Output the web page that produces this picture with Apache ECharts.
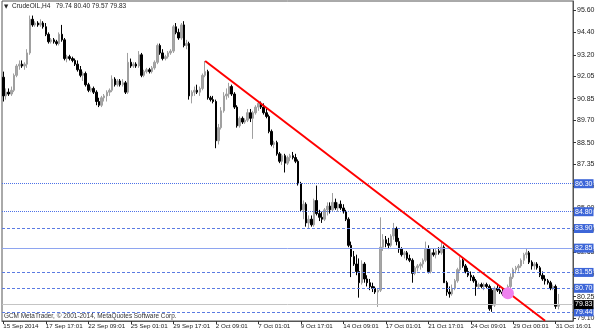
<!DOCTYPE html>
<html><head><meta charset="utf-8">
<script src="https://cdn.jsdelivr.net/npm/echarts@6/dist/echarts.min.js"></script>
<style>html,body{margin:0;padding:0;background:#fff}#c{width:600px;height:333px}</style>
</head><body><div id="c"></div>
<script>
// ---- data ----
const opens = [92.0,91.0,91.2,91.1,91.3,92.1,92.6,92.7,92.6,92.7,93.3,95.1,94.8,94.9,94.8,94.9,94.7,94.3,93.9,94.0,
93.9,93.8,94.3,94.0,93.0,93.1,93.0,92.9,92.7,92.4,92.1,92.2,91.6,91.3,91.4,91.2,90.7,90.5,90.9,91.0,
91.2,91.3,91.9,91.6,91.8,91.6,91.7,91.2,92.8,92.6,92.7,92.6,93.2,92.1,92.3,92.4,92.3,92.5,92.8,93.7,
93.3,93.0,93.1,93.3,93.4,94.7,94.4,94.1,94.8,93.7,93.8,91.0,91.2,91.3,91.2,91.4,92.1,92.3,90.9,90.8,
90.7,88.6,89.3,90.2,91.0,91.1,91.5,91.1,90.4,89.4,89.8,89.6,89.7,90.1,89.8,90.1,90.4,90.6,90.4,90.1,
89.9,89.1,88.4,88.5,87.9,87.5,87.8,87.4,87.7,87.8,87.7,87.5,86.3,84.9,85.2,84.2,84.4,84.1,85.4,84.7,
84.5,84.4,84.9,85.1,84.9,85.3,85.0,85.2,85.0,84.8,84.4,83.0,82.4,82.0,81.6,81.0,82.0,81.2,81.0,80.8,
80.7,80.5,80.6,82.9,83.3,83.1,83.0,83.5,83.9,83.2,82.8,82.5,82.6,82.3,82.2,81.5,81.8,81.9,82.0,82.2,
82.8,81.6,82.6,82.5,82.7,82.6,82.9,81.0,80.5,80.4,80.7,81.1,81.7,82.2,81.9,81.6,81.4,81.3,81.1,80.8,
80.9,80.8,80.9,80.8,80.6,79.8,80.7,80.6,80.5,80.4,80.5,80.8,81.3,81.7,81.8,81.9,82.2,82.5,82.6,82.1,
81.9,82.0,81.8,81.4,81.2,81.1,81.0,80.7,80.8,79.74];
const highs = [92.3,91.4,91.4,91.5,92.2,92.7,92.9,92.9,92.8,93.5,95.3,95.3,95.0,95.0,95.1,95.0,94.9,94.4,94.1,94.1,
94.0,94.4,94.8,94.1,93.2,93.2,93.1,93.0,92.9,92.6,92.3,92.3,91.7,91.5,91.5,91.3,90.9,91.0,91.1,91.3,
91.4,92.1,92.0,91.9,91.9,91.9,91.8,93.3,93.0,92.8,92.8,93.4,93.3,92.4,92.5,92.5,92.6,92.9,93.8,93.8,
93.5,93.2,93.4,93.5,94.8,94.9,94.6,94.9,95.0,94.0,93.9,91.3,91.5,91.6,91.5,92.2,92.87,92.4,91.0,91.0,
90.8,89.5,90.4,91.2,91.4,91.7,91.6,91.2,90.5,89.9,89.9,89.8,90.3,90.3,90.2,90.5,90.7,90.7,90.6,90.3,
90.0,89.2,88.6,88.6,88.0,87.9,87.9,87.8,87.9,88.0,87.9,87.6,86.4,85.4,85.3,84.6,84.6,85.5,86.2,84.9,
84.8,85.0,85.3,85.3,85.8,85.5,85.3,85.4,85.2,84.9,84.5,83.2,82.7,82.5,82.3,82.2,82.1,81.4,81.2,81.0,
80.8,80.7,84.5,83.6,83.5,83.4,83.6,84.2,84.0,83.4,82.9,82.7,82.7,82.5,82.3,81.9,82.0,82.1,82.3,83.2,
83.0,82.8,82.8,82.8,82.9,83.2,83.0,81.1,80.8,80.9,81.2,81.8,82.4,82.3,82.0,81.8,81.6,81.4,81.2,81.0,
81.0,81.0,81.0,80.9,80.7,80.8,80.9,80.8,80.7,80.6,80.9,81.5,81.8,81.9,82.0,82.3,82.6,82.85,82.7,82.2,
82.1,82.1,81.9,81.6,81.4,81.2,81.1,80.9,80.9,80.40];
const lows = [90.7,90.8,91.0,91.0,91.2,92.0,92.4,92.5,92.4,92.5,93.2,94.7,94.7,94.7,94.7,94.6,94.2,93.8,93.8,93.8,
93.7,93.7,93.9,92.9,92.8,92.9,92.8,92.6,92.3,92.0,91.8,91.5,91.2,91.2,91.1,90.5,90.4,90.4,90.7,90.7,
91.0,91.2,91.5,91.5,91.5,91.5,91.1,91.1,92.5,92.5,92.5,92.5,92.0,92.0,92.2,92.2,92.2,92.4,92.7,93.2,
92.9,92.9,93.0,93.2,93.3,94.3,94.0,94.0,93.6,93.5,90.8,90.6,91.0,91.1,91.0,91.3,92.0,90.8,90.7,90.6,
88.2,88.4,89.2,90.1,90.8,90.9,91.0,90.3,89.3,89.3,89.5,89.5,89.6,89.6,88.7,90.0,90.2,90.3,90.0,89.8,
89.0,88.3,88.2,87.8,87.4,87.3,86.9,87.3,87.5,87.6,87.4,86.2,84.8,84.4,84.0,83.9,84.0,84.0,84.6,84.3,
84.2,84.3,84.6,84.7,84.8,84.9,84.8,84.9,84.7,84.3,82.9,81.3,81.9,81.4,80.2,80.9,81.0,80.8,80.6,80.5,
80.4,79.7,80.5,82.7,82.9,82.8,82.9,83.3,83.0,82.6,82.4,82.3,82.2,82.1,81.0,81.4,81.6,81.7,81.8,82.1,
81.5,81.5,82.4,82.3,82.5,82.5,81.0,80.3,80.2,80.3,80.6,81.0,81.6,81.8,81.5,81.3,81.1,81.0,80.3,80.7,
80.7,80.6,80.7,79.5,79.44,79.7,80.5,80.4,80.3,80.3,80.4,80.7,81.2,81.5,81.6,81.8,82.0,82.3,82.0,81.7,
81.7,81.7,81.3,81.1,80.9,80.9,80.6,80.6,79.6,79.57];
const closes = [91.0,91.2,91.1,91.3,92.1,92.6,92.7,92.6,92.7,93.3,95.1,94.8,94.9,94.8,94.9,94.7,94.3,93.9,94.0,93.9,
93.8,94.3,94.0,93.0,93.1,93.0,92.9,92.7,92.4,92.1,92.2,91.6,91.3,91.4,91.2,90.7,90.5,90.9,91.0,91.2,
91.3,91.9,91.6,91.8,91.6,91.7,91.2,92.8,92.6,92.7,92.6,93.2,92.1,92.3,92.4,92.3,92.5,92.8,93.7,93.3,
93.0,93.1,93.3,93.4,94.7,94.4,94.1,94.8,93.7,93.8,91.0,91.2,91.3,91.2,91.4,92.1,92.3,90.9,90.8,90.7,
88.6,89.3,90.2,91.0,91.1,91.5,91.1,90.4,89.4,89.8,89.6,89.7,90.1,89.8,90.1,90.4,90.6,90.4,90.1,89.9,
89.1,88.4,88.5,87.9,87.5,87.8,87.4,87.7,87.8,87.7,87.5,86.3,84.9,85.2,84.2,84.4,84.1,85.4,84.7,84.5,
84.4,84.9,85.1,84.9,85.3,85.0,85.2,85.0,84.8,84.4,83.0,82.4,82.0,81.6,81.0,82.0,81.2,81.0,80.8,80.7,
80.5,80.6,82.9,83.3,83.1,83.0,83.5,83.9,83.2,82.8,82.5,82.6,82.3,82.2,81.5,81.8,81.9,82.0,82.2,82.8,
81.6,82.6,82.5,82.7,82.6,82.9,81.0,80.5,80.4,80.7,81.1,81.7,82.2,81.9,81.6,81.4,81.3,81.1,80.8,80.9,
80.8,80.9,80.8,79.6,79.8,80.7,80.6,80.5,80.4,80.5,80.8,81.3,81.7,81.8,81.9,82.2,82.5,82.6,82.1,81.9,
82.0,81.8,81.4,81.2,81.1,81.0,80.7,80.8,79.74,79.83];
const tickLabels = ['15 Sep 2014','17 Sep 17:01','22 Sep 09:01','25 Sep 01:01','29 Sep 17:01','2 Oct 09:01','7 Oct 01:01',
  '9 Oct 17:01','14 Oct 09:01','17 Oct 01:01','21 Oct 17:01','24 Oct 09:01','29 Oct 00:01','31 Oct 16:01'];
const barsPerTick = 16;
const priceTicks = [95.60,94.40,93.20,92.05,90.85,89.70,88.50,87.35,86.15,85.00,83.80,82.65,81.45,80.25,79.10];
const levelLines = [86.30,84.80,83.90,82.85,81.55,80.70,79.44];
const bidPrice = 79.83;
const trendStart = [76, 92.87];
const trendEnd = [204, 78.96];
const markerPoint = [190, 80.44];
const symbolName = 'CrudeOIL,H4';
const copyright = 'GCM MetaTrader, \u00a9 2001-2014, MetaQuotes Software Corp.';
const yMin = 78.95, yMax = 96.08, slotCount = 215;

// ---- build ----
const slots = [];
for (let i = 0; i < slotCount; i++) slots.push(String(i));
const candles = opens.map((o, i) => [o, closes[i], lows[i], highs[i]]);
const last = opens.length - 1;
const levelKinds = ['dotted','dotted','dashed','solid','dashed','dashed','dashed'];
const FONT = 'Liberation Sans';
const isTick = (i) => i % barsPerTick === 0 && i / barsPerTick < tickLabels.length;

const markData = levelLines.map((v, k) => {
  const kind = levelKinds[k];
  return {
    yAxis: v,
    lineStyle: {
      color: kind === 'dashed' ? '#5b7be2' : (kind === 'dotted' ? '#4d72e8' : '#8ea5f0'),
      type: kind === 'dotted' ? [1, 1] : (kind === 'dashed' ? [3, 2] : 'solid'),
      width: 1
    },
    label: {
      show: true, position: 'end', distance: 1,
      formatter: v.toFixed(2),
      backgroundColor: '#3d66d8', color: '#fff',
      fontSize: 7, fontFamily: FONT, padding: [1, 1, 0, 1], lineHeight: 8
    }
  };
});
markData.push({
  yAxis: bidPrice,
  lineStyle: { color: '#c4c4c4', type: 'solid', width: 1 },
  label: { show: true, position: 'end', distance: 1, formatter: bidPrice.toFixed(2),
    backgroundColor: '#000', color: '#fff', fontSize: 7, fontFamily: FONT, padding: [1, 1, 0, 1], lineHeight: 8 }
});
markData.push([
  { coord: trendStart, lineStyle: { color: '#ff0000', width: 2, type: 'solid' }, label: { show: false } },
  { coord: trendEnd }
]);

const chart = echarts.init(document.getElementById('c'), null, { renderer: 'canvas' });
chart.setOption({
  animation: false,
  backgroundColor: '#fff',
  grid: { left: 2, right: 27, top: 1, bottom: 12, show: true, borderColor: '#555', borderWidth: 1 },
  xAxis: {
    type: 'category', data: slots, boundaryGap: true,
    axisLine: { show: true, lineStyle: { color: '#555' } },
    axisTick: { show: true, alignWithLabel: true, length: 3, interval: isTick, lineStyle: { color: '#333' } },
    axisLabel: {
      show: true, interval: isTick, align: 'left', margin: 2,
      formatter: (v, i) => tickLabels[Math.round(i / barsPerTick)],
      fontSize: 6.2, fontFamily: FONT, color: '#222'
    },
    splitLine: { show: false }
  },
  yAxis: {
    type: 'value', position: 'right', min: yMin, max: yMax, scale: true,
    axisLine: { show: true, lineStyle: { color: '#555' } },
    axisTick: { show: true, length: 3, customValues: priceTicks, lineStyle: { color: '#333' } },
    axisLabel: { show: true, customValues: priceTicks, formatter: (v) => v.toFixed(2), margin: 4,
      fontSize: 7, fontFamily: FONT, color: '#222' },
    splitLine: { show: false }
  },
  series: [
    {
      type: 'candlestick', data: candles, barWidth: 2, clip: false,
      itemStyle: { color: '#a6a6a6', color0: '#000', borderColor: '#a0a0a0', borderColor0: '#000', borderWidth: 1 },
      markLine: { silent: true, symbol: ['none', 'none'], animation: false, data: markData }
    },
    {
      type: 'scatter', data: [markerPoint], symbol: 'circle', symbolSize: 12, z: 5, silent: true,
      itemStyle: { color: '#ee82ee', opacity: 1 }
    }
  ],
  graphic: [
    { type: 'text', left: 4, top: 4, style: { text: '\u25BC', fontSize: 5.5, fontFamily: 'DejaVu Sans', fill: '#222' } },
    { type: 'text', left: 12, top: 3, style: {
      text: symbolName + '   ' + [opens[last], highs[last], lows[last], closes[last]].map(v => v.toFixed(2)).join(' '),
      fontSize: 6.5, fontFamily: FONT, fill: '#222' } },
    { type: 'text', left: 4, top: 313, style: { text: copyright, fontSize: 6.4, fontFamily: FONT, fill: '#333' } }
  ]
});
</script></body></html>
